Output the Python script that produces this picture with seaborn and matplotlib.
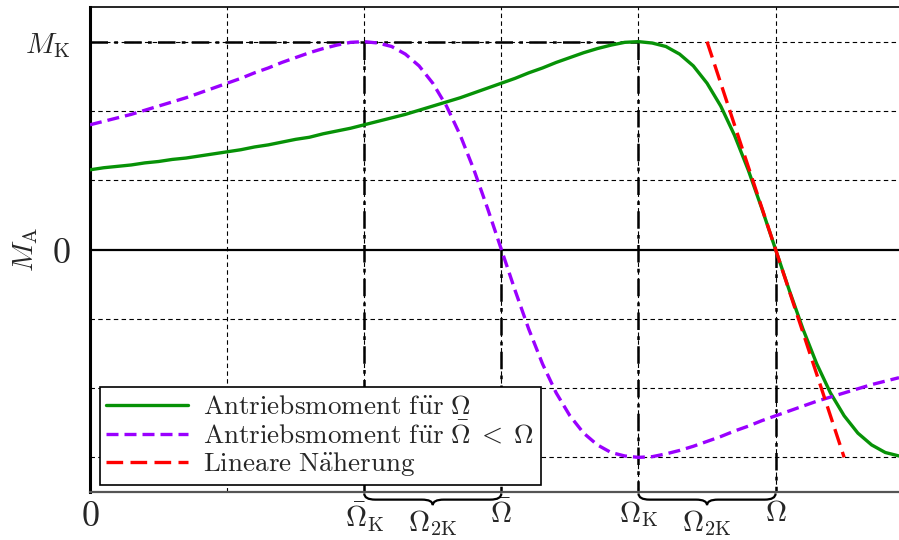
import numpy as np
import pandas as pd
import matplotlib
matplotlib.use("Agg")
import matplotlib.pyplot as plt
from matplotlib.path import Path
from matplotlib.patches import PathPatch
import seaborn as sns

# ---- data ----
omega = [0.0, 0.1, 0.2, 0.3, 0.4, 0.5, 0.6, 0.7, 0.8, 0.9,
         1.0, 1.1, 1.2, 1.3, 1.4, 1.5, 1.6, 1.7, 1.8, 1.9,
         2.0, 2.1, 2.2, 2.3, 2.4, 2.5, 2.6, 2.7, 2.8, 2.9,
         3.0, 3.1, 3.2, 3.3, 3.4, 3.5, 3.6, 3.7, 3.8, 3.9,
         4.0, 4.1, 4.2, 4.3, 4.4, 4.5, 4.6, 4.7, 4.8, 4.9,
         5.0, 5.1, 5.2, 5.3, 5.4, 5.5, 5.6, 5.7, 5.8, 5.9]
torque_full = [1.15, 1.18, 1.20, 1.22, 1.25, 1.27, 1.30, 1.32, 1.35, 1.38,
               1.41, 1.44, 1.48, 1.51, 1.55, 1.59, 1.62, 1.67, 1.71, 1.75,
               1.80, 1.85, 1.90, 1.95, 2.01, 2.07, 2.13, 2.19, 2.26, 2.33,
               2.40, 2.47, 2.55, 2.62, 2.70, 2.77, 2.84, 2.90, 2.95, 2.99,
               3.00, 2.98, 2.93, 2.82, 2.65, 2.40, 2.07, 1.65, 1.15, 0.59,
               0.00, -0.59, -1.15, -1.65, -2.07, -2.40, -2.65, -2.82, -2.93, -2.98]
torque_reduced = [1.80, 1.85, 1.90, 1.95, 2.01, 2.07, 2.13, 2.19, 2.26, 2.33,
                  2.40, 2.47, 2.55, 2.62, 2.70, 2.77, 2.84, 2.90, 2.95, 2.99,
                  3.00, 2.98, 2.93, 2.82, 2.65, 2.40, 2.07, 1.65, 1.15, 0.59,
                  0.00, -0.59, -1.15, -1.65, -2.07, -2.40, -2.65, -2.82, -2.93, -2.98,
                  -3.00, -2.99, -2.95, -2.90, -2.84, -2.77, -2.70, -2.62, -2.55, -2.47,
                  -2.40, -2.33, -2.26, -2.19, -2.13, -2.07, -2.01, -1.95, -1.90, -1.85]
linear_x = [4.5, 5.5]
linear_y = [3.0, -3.0]

M_K = 3.0
omega_bar_K, omega_bar, omega_K, omega_sync = 2.0, 3.0, 4.0, 5.0
x_ticks = [0.0, omega_bar_K, omega_bar, omega_K, omega_sync]
x_ticklabels = [r'$0$', r'$\bar{\Omega}_\mathrm{K}$', r'$\bar{\Omega}$',
                r'$\Omega_\mathrm{K}$', r'$\Omega$']
y_ticks = [0.0, M_K]
y_ticklabels = [r'$0$', r'$M_\mathrm{K}$']
grid_x = [1, 2, 3, 4, 5]
grid_y = [-3, -2, -1, 1, 2, 3]
labels = [r'$\mathrm{Antriebsmoment\ f\ddot{u}r\ }\Omega$',
          r'$\mathrm{Antriebsmoment\ f\ddot{u}r\ }\bar{\Omega}\;<\;\Omega$',
          r'$\mathrm{Lineare\ N\ddot{a}herung}$']
brace_label = r'$\Omega_\mathrm{2K}$'

df_full = pd.DataFrame({'omega': omega, 'M': torque_full})
df_red = pd.DataFrame({'omega': omega, 'M': torque_reduced})
df_lin = pd.DataFrame({'omega': linear_x, 'M': linear_y})

# ---- style ----
sns.set_style('white')
plt.rcParams['mathtext.fontset'] = 'cm'
plt.rcParams['font.family'] = ['DejaVu Serif']

fig = plt.figure(figsize=(8.99, 5.40), dpi=100)
ax = fig.add_axes([90 / 899, 48 / 540, 809 / 899, 485 / 540])
XMIN, XMAX, YMIN, YMAX = 0.0, 5.9, -3.5, 3.5
ax.set_xlim(XMIN, XMAX)
ax.set_ylim(YMIN, YMAX)

# grid
for gx in grid_x:
    ax.axvline(gx, color='black', lw=0.8, ls=(0, (4, 3)), zorder=1)
for gy in grid_y:
    ax.axhline(gy, color='black', lw=0.8, ls=(0, (4, 3)), zorder=1)
ax.axhline(0, color='black', lw=1.6, zorder=2)

# dash-dot helper lines
dd = (0, (7, 2.5, 1.5, 2.5))
ax.plot([XMIN, omega_K], [M_K, M_K], color='black', lw=1.8, ls=dd, zorder=2)
for xv, ytop in [(omega_bar_K, M_K), (omega_bar, 0), (omega_K, M_K), (omega_sync, 0)]:
    ax.plot([xv, xv], [ytop, YMIN], color='black', lw=1.8, ls=dd, zorder=2)

# curves
sns.lineplot(data=df_full, x='omega', y='M', ax=ax, color='#079207', lw=2.4,
             label=labels[0], zorder=4, sort=False)
sns.lineplot(data=df_red, x='omega', y='M', ax=ax, color='#9a00ff', lw=2.4,
             linestyle=(0, (3.6, 1.8)), label=labels[1], zorder=4, sort=False)
sns.lineplot(data=df_lin, x='omega', y='M', ax=ax, color='#ff0000', lw=2.4,
             linestyle=(0, (5, 2.2)), label=labels[2], zorder=5, sort=False)

# ticks
ax.set_xticks(x_ticks)
ax.set_xticklabels(x_ticklabels)
ax.set_yticks(y_ticks)
ax.set_yticklabels(y_ticklabels)
ax.tick_params(axis='x', length=0, pad=5, labelsize=21)
ax.tick_params(axis='y', length=0, pad=14, labelsize=21)
ax.get_xticklabels()[0].set_fontsize(26)
ax.get_yticklabels()[0].set_fontsize(26)
ax.set_xlabel('')
ax.set_ylabel(r'$M_\mathrm{A}$', fontsize=21)
ax.yaxis.set_label_coords(-50 / 809, 0.5)

# spines
ax.spines['left'].set_color('black')
ax.spines['left'].set_linewidth(2.2)
ax.spines['top'].set_color('black')
ax.spines['top'].set_linewidth(1.2)
ax.spines['bottom'].set_color('#555555')
ax.spines['bottom'].set_linewidth(1.6)
ax.spines['right'].set_visible(False)

# braces under the axis
def brace(x0, x1):
    y0, y1, y2 = YMIN - 0.02, YMIN - 0.11, YMIN - 0.19
    m = 0.5 * (x0 + x1)
    r = 0.08
    verts = [(x0, y0), (x0, y1), (x0 + r, y1),
             (m - r, y1),
             (m, y1), (m, y2),
             (m, y1), (m + r, y1),
             (x1 - r, y1),
             (x1, y1), (x1, y0)]
    codes = [Path.MOVETO, Path.CURVE3, Path.CURVE3,
             Path.LINETO,
             Path.CURVE3, Path.CURVE3,
             Path.CURVE3, Path.CURVE3,
             Path.LINETO,
             Path.CURVE3, Path.CURVE3]
    p = PathPatch(Path(verts, codes), fill=False, lw=1.6, color='black', clip_on=False)
    ax.add_patch(p)
    ax.text(m, YMIN - 0.45, brace_label, ha='center', va='center', fontsize=21)

brace(omega_bar_K, omega_bar)
brace(omega_K, omega_sync)

# legend
leg = ax.legend(loc='lower left', bbox_to_anchor=(0.012, 0.014), borderaxespad=0,
                fontsize=19.5, handlelength=3.0, handletextpad=0.55, labelspacing=0.05,
                borderpad=0.25, fancybox=False, framealpha=1, edgecolor='black')
leg.get_frame().set_linewidth(1.2)

fig.savefig('out.png', dpi=100)
